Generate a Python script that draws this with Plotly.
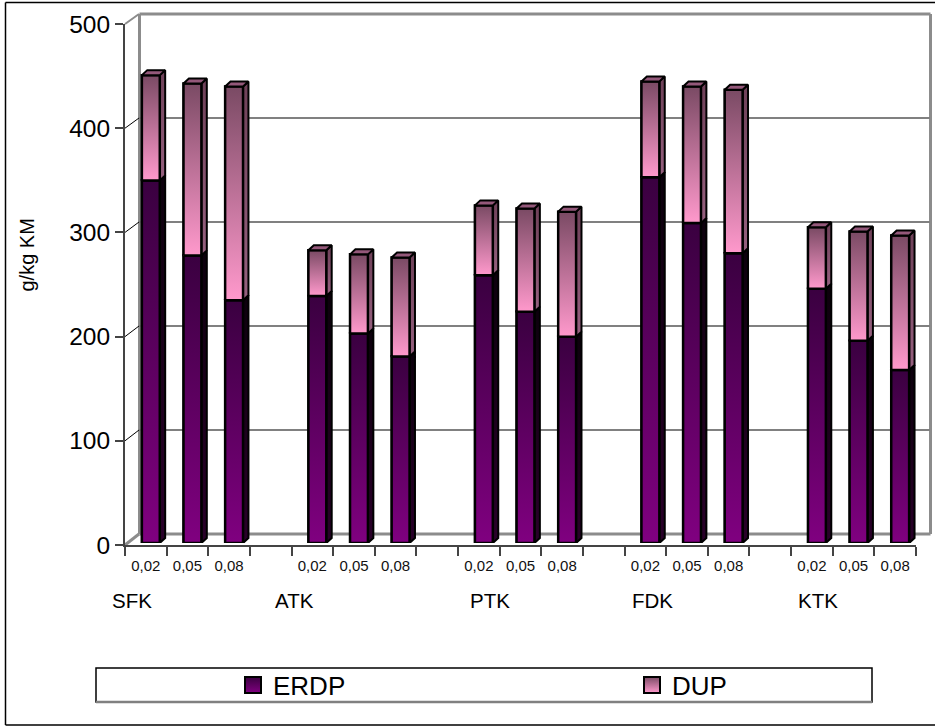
import plotly.graph_objects as go

W, H = 935, 726
FONT = "Liberation Sans"

# ---- data ----
groups = ["SFK", "ATK", "PTK", "FDK", "KTK"]
levels = ["0,02", "0,05", "0,08"]
erdp = [348, 276, 233, 237, 201, 179, 257, 222, 198, 351, 307, 278, 244, 194, 166]
dup = [101, 165, 205, 44, 76, 95, 67, 99, 120, 92, 131, 157, 59, 105, 129]
series_names = ["ERDP", "DUP"]
y_ticks = [0, 100, 200, 300, 400, 500]
y_title = "g/kg KM"

# ---- styling ----
ERDP_GRAD = [[0, "#800080"], [1, "#3a0040"]]
DUP_GRAD = [[0, "#ff99cc"], [1, "#7a4a64"]]
ERDP_SIDE = [[0, "#2a002a"], [1, "#0c000c"]]
DUP_SIDE = [[0, "#96607f"], [1, "#6e4058"]]
TOP_COLOR = "#94587a"
BAR_W = 0.43
N_SLOTS = 19
DX, DY = 0.13, 4.8  # bar depth in data units


def xd(a, b):
    return [a / W, b / W]


def yd(top, bottom):
    return [1 - bottom / H, 1 - top / H]


fig = go.Figure()

# back wall carrier so its grid is drawn
fig.add_trace(go.Scatter(x=[0, 1], y=[None, None], mode="markers", showlegend=False,
                         xaxis="x", yaxis="y", hoverinfo="skip"))

# slots: 3 bars per group then one blank
slots = [g * 4 + l + 0.5 for g in range(len(groups)) for l in range(3)]
labels = [lv for _ in groups for lv in levels]

for name, values, base_vals, grad, side in [
    ("ERDP", erdp, [0] * len(erdp), ERDP_GRAD, ERDP_SIDE),
    ("DUP", dup, erdp, DUP_GRAD, DUP_SIDE),
]:
    fig.add_trace(go.Bar(x=slots, y=values, base=base_vals, width=BAR_W, name=name, showlegend=False,
                         marker=dict(color=grad[0][1], line=dict(color="black", width=2)),
                         xaxis="x3", yaxis="y3", hoverinfo="skip"))
    for s, v, b in zip(slots, values, base_vals):
        l, r = s - BAR_W / 2, s + BAR_W / 2
        t = b + v
        # side face
        fig.add_trace(go.Scatter(x=[r, r + DX, r + DX, r, r], y=[b, b + DY, t + DY, t, b],
                                 mode="lines", fill="toself", line=dict(color="black", width=2),
                                 fillgradient=dict(type="vertical", colorscale=side),
                                 showlegend=False, xaxis="x3", yaxis="y3", hoverinfo="skip"))
        # front face with gradient
        fig.add_trace(go.Scatter(x=[l, r, r, l, l], y=[b, b, t, t, b],
                                 mode="lines", fill="toself", line=dict(color="black", width=2.5),
                                 fillgradient=dict(type="vertical", colorscale=grad),
                                 showlegend=False, xaxis="x3", yaxis="y3", hoverinfo="skip"))

# top caps
for s, e, d in zip(slots, erdp, dup):
    l, r = s - BAR_W / 2, s + BAR_W / 2
    t = e + d
    fig.add_trace(go.Scatter(x=[l, r, r + DX, l + DX, l], y=[t, t, t + DY, t + DY, t],
                             mode="lines", fill="toself", fillcolor=TOP_COLOR,
                             line=dict(color="black", width=2),
                             showlegend=False, xaxis="x3", yaxis="y3", hoverinfo="skip"))

# front axes carrier
fig.add_trace(go.Scatter(x=slots, y=[None] * len(slots), mode="markers", showlegend=False,
                         xaxis="x2", yaxis="y2", hoverinfo="skip"))

# legend entries, one legend each so they can sit far apart
for name, g, lg in zip(series_names, [ERDP_GRAD, DUP_GRAD], ["legend", "legend2"]):
    fig.add_trace(go.Scatter(x=[None], y=[None], mode="markers", name=name, xaxis="x3", yaxis="y3", legend=lg,
                             marker=dict(symbol="square", size=16, color=g[1][1],
                                         gradient=dict(type="vertical", color=g[0][1]),
                                         line=dict(color="black", width=2))))

LEGEND_STYLE = dict(xanchor="left", yanchor="middle", itemsizing="trace", bgcolor="rgba(0,0,0,0)",
                    font=dict(size=26), itemclick=False, itemdoubleclick=False, borderwidth=0)

fig.update_layout(
    width=W, height=H, margin=dict(l=0, r=0, t=0, b=0, autoexpand=False),
    paper_bgcolor="white", plot_bgcolor="rgba(0,0,0,0)",
    font=dict(family=FONT, color="black"),
    barmode="overlay",
    # back wall grid
    xaxis=dict(domain=xd(139, 930), range=[0, 1], visible=False),
    yaxis=dict(domain=yd(14, 534), range=[0, 500], tickvals=y_ticks, showticklabels=False, ticks="",
               showgrid=True, gridcolor="#808080", gridwidth=2, zeroline=False, showline=False),
    # front axes
    xaxis2=dict(domain=xd(125, 916), range=[0, N_SLOTS], anchor="y2",
                tickvals=slots, ticktext=labels, ticks="", ticklen=0, ticklabelstandoff=6,
                tickfont=dict(size=15, color="#111"), showgrid=False, zeroline=False,
                showline=True, linecolor="#444444", linewidth=2,
                minor=dict(tickvals=list(range(N_SLOTS + 1)), ticks="outside", ticklen=9,
                           tickcolor="#444444", tickwidth=1.5, showgrid=False)),
    yaxis2=dict(domain=yd(24, 545), range=[0, 500], anchor="x2", tickvals=y_ticks, ticks="outside",
                ticklen=8, tickcolor="#444444", tickwidth=1.5, tickfont=dict(size=24.5),
                showline=True, linecolor="#444444", linewidth=2, showgrid=False, zeroline=False),
    # bars
    xaxis3=dict(domain=xd(130, 921), range=[0, N_SLOTS], visible=False, anchor="y3"),
    yaxis3=dict(domain=yd(22, 543), range=[0, 500], visible=False, anchor="x3"),
    legend=dict(x=233 / W, y=1 - 685 / H, **LEGEND_STYLE),
    legend2=dict(x=632 / W, y=1 - 685 / H, **LEGEND_STYLE),
)


def pline(x0, y0, x1, y1, color="black", width=1.5):
    fig.add_shape(type="line", xref="paper", yref="paper", x0=x0 / W, x1=x1 / W,
                  y0=1 - y0 / H, y1=1 - y1 / H, line=dict(color=color, width=width), layer="below")


# outer frame (left, top, bottom only)
pline(5.5, 2.5, 5.5, 725, "black", 1.5)
pline(5.5, 2.5, 935, 2.5, "black", 1.5)
pline(5.5, 725, 935, 725, "black", 1.5)

# back wall outline
pline(139.5, 14, 930.5, 14, "#8c8c8c", 3)
pline(139.5, 14, 139.5, 534, "#8c8c8c", 3)
pline(930.5, 14, 930.5, 534, "#8c8c8c", 3)
pline(139.5, 534, 930.5, 534, "#8c8c8c", 3)

# depth lines
pline(125, 24, 139, 14, "#8c8c8c", 2)
pline(125, 545, 139, 534, "#8c8c8c", 3)
for py_front, py_back in [(128.2, 118), (232.4, 222), (336.6, 326), (440.8, 430)]:
    pline(125, py_front, 139, py_back, "black", 1)

# legend box
fig.add_shape(type="rect", xref="paper", yref="paper", x0=96 / W, x1=872 / W, y0=1 - 702 / H, y1=1 - 668 / H,
              line=dict(color="black", width=1.5), fillcolor="white", layer="below")
pline(96, 702, 872, 702, "#808080", 2.5)

# group labels
for g, px in zip(groups, [110, 273, 468, 630, 796]):
    fig.add_annotation(text=g, xref="paper", yref="paper", x=px / W, y=1 - 600 / H, xanchor="left",
                       yanchor="middle", showarrow=False, font=dict(size=20.5))

# y axis title
fig.add_annotation(text=y_title, xref="paper", yref="paper", x=26 / W, y=1 - 255.5 / H, textangle=-90,
                   xanchor="center", yanchor="middle", showarrow=False, font=dict(size=20))

fig.write_html("out.html", config=dict(displayModeBar=False),
               post_script="document.body.style.margin='0';document.documentElement.style.overflow='hidden';")
